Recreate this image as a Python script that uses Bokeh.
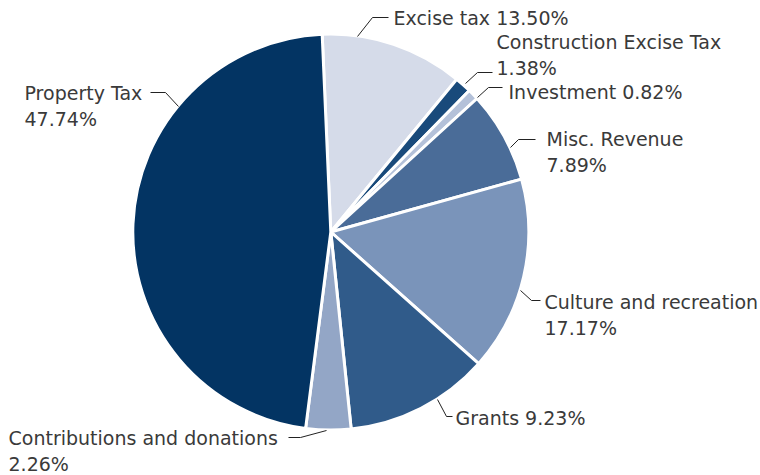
import numpy as np
from bokeh.plotting import figure
from bokeh.models import ColumnDataSource, Range1d
from bokeh.core.properties import value
from bokeh.embed import file_html
from bokeh.resources import INLINE

# ---- data ----
categories = ["Excise tax", "Construction Excise Tax", "Investment", "Misc. Revenue",
              "Culture and recreation", "Grants", "Contributions and donations", "Property Tax"]
label_pcts = ["13.50%", "1.38%", "0.82%", "7.89%", "17.17%", "9.23%", "2.26%", "47.74%"]
# slice sizes as drawn in the picture (percent of the circle)
drawn_shares = [11.67, 1.36, 0.89, 7.47, 15.89, 11.78, 3.67, 47.28]

# ---- style / layout ----
colors = ["#d5dbe9", "#194a7b", "#b4c1d9", "#4a6c98", "#7a94ba", "#305b8a", "#93a6c6", "#033463"]
separators = [" ", "\n", " ", "\n", "\n", " ", "\n", "\n"]
label_pos = [(393, 17), (496, 41), (508, 91), (546, 138), (544, 301), (455, 417), (8, 437), (24, 92)]
leaders = [
    [(357, 36), (372, 17), (388, 17)],
    [(465, 83), (477, 72), (492, 72)],
    [(477, 97), (488, 87), (502, 87)],
    [(510, 147), (518, 139), (535, 139)],
    [(520, 290), (531, 300), (540, 300)],
    [(437, 399), (446, 416), (452, 416)],
    [(326, 430), (300, 437), (288, 437)],
    [(178, 106), (165, 92), (150, 92)],
]
CX, CY, R = 330.3, 231.5, 198.0
START = 92.5
LINE_GAP = 26

W, H = 760, 475
p = figure(width=W, height=H, output_backend="svg", toolbar_location=None,
           x_range=Range1d(0, W), y_range=Range1d(-H, 0),
           min_border=0, outline_line_color=None)
p.axis.visible = False
p.grid.visible = False
p.background_fill_color = "white"
p.border_fill_color = "white"

shares = np.array(drawn_shares, dtype=float)
shares = shares / shares.sum()
cum = np.concatenate([[0], np.cumsum(shares)])
starts = np.radians(START - cum[:-1] * 360.0)
ends = np.radians(START - cum[1:] * 360.0)

src = ColumnDataSource(dict(start=starts, end=ends, color=colors, cat=categories))
p.wedge(x=CX, y=-CY, radius=R, start_angle="start", end_angle="end",
        direction="clock", fill_color="color", line_color="white", line_width=3, source=src)

xs = [[pt[0] for pt in l] for l in leaders]
ys = [[-pt[1] for pt in l] for l in leaders]
p.multi_line(xs=xs, ys=ys, line_color="#222222", line_width=1)

tx, ty, tt = [], [], []
for cat, pct, sep, (lx, ly) in zip(categories, label_pcts, separators, label_pos):
    lines = (cat + sep + pct).split("\n")
    for i, ln in enumerate(lines):
        tx.append(lx)
        ty.append(-(ly + i * LINE_GAP))
        tt.append(ln)
p.text(x=tx, y=ty, text=tt, text_font=value("DejaVu Sans"), text_font_size="19px",
       text_color="#3a3a3a", text_align="left", text_baseline="middle")

open("out.html", "w").write(file_html(p, INLINE))
